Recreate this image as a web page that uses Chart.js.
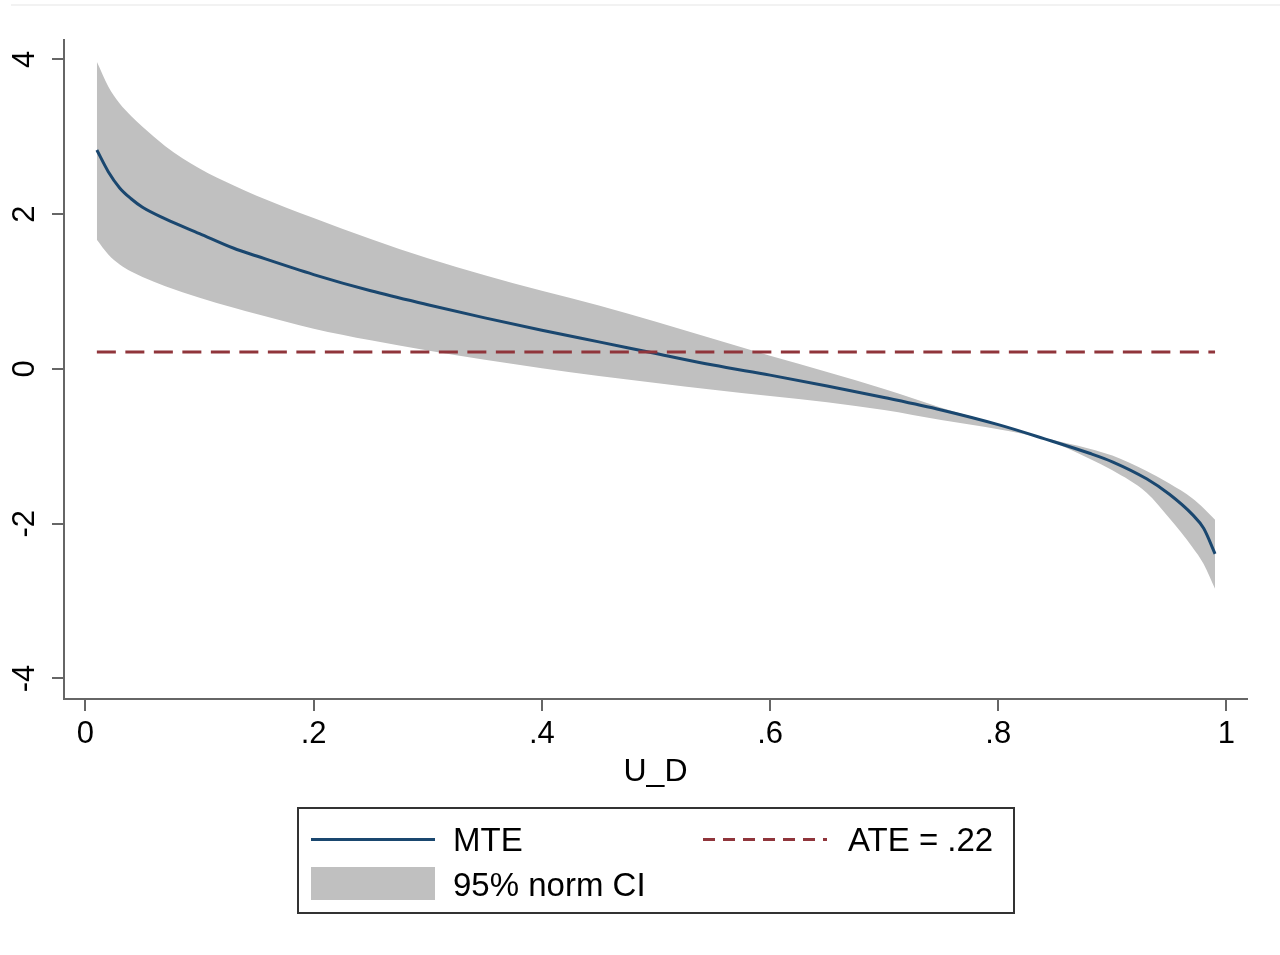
<!DOCTYPE html>
<html>
<head>
<meta charset="utf-8">
<title>MTE</title>
<script src="https://cdn.jsdelivr.net/npm/chart.js@4.4.1/dist/chart.umd.min.js"></script>
<style>
    html, body { margin: 0; padding: 0; background: #fff; }
    #wrap { position: relative; width: 1280px; height: 955px; }
    #rule { position: absolute; left: 11px; right: 0; top: 4px; height: 2px; background: #f2f2f2; }
</style>
</head>
<body>
<div id="wrap">
    <div id="rule"></div>
    <canvas id="mte"></canvas>
</div>
<script>
/* Marginal treatment effect over U_D with a 95% normal CI band */

const U_D = [0.01, 0.02, 0.03, 0.04, 0.05, 0.07, 0.10, 0.13, 0.15, 0.20, 0.25, 0.30, 0.35, 0.40, 0.45,
    0.50, 0.55, 0.60, 0.65, 0.70, 0.75, 0.80, 0.84, 0.88, 0.90, 0.93, 0.95, 0.97, 0.98, 0.99];

const MTE = [2.83, 2.55, 2.34, 2.20, 2.09, 1.94, 1.75, 1.56, 1.46, 1.22, 1.01, 0.83, 0.66, 0.50, 0.35,
    0.20, 0.05, -0.08, -0.22, -0.37, -0.53, -0.72, -0.90, -1.09, -1.20, -1.42, -1.62, -1.88, -2.06, -2.39];

const CI_UPPER = [3.97, 3.65, 3.43, 3.27, 3.13, 2.88, 2.59, 2.37, 2.24, 1.95, 1.68, 1.43, 1.21, 1.01, 0.82,
    0.61, 0.39, 0.17, -0.04, -0.26, -0.50, -0.71, -0.89, -1.03, -1.12, -1.32, -1.48, -1.67, -1.80, -1.95];

const CI_LOWER = [1.67, 1.48, 1.35, 1.26, 1.19, 1.07, 0.92, 0.79, 0.71, 0.52, 0.37, 0.24, 0.12, 0.01, -0.09,
    -0.18, -0.27, -0.35, -0.43, -0.53, -0.66, -0.78, -0.91, -1.16, -1.31, -1.60, -1.93, -2.30, -2.52, -2.84];

const ATE = 0.22;
const ATE_SPAN = [0.01, 0.99];

const X_TICKS = [0, 0.2, 0.4, 0.6, 0.8, 1];
const Y_TICKS = [-4, -2, 0, 2, 4];

const COLORS = {
    mte: '#1a476f',
    ate: '#90353b',
    band: '#c0c0c0',
    axis: '#666666',
    text: '#000000',
    frame: '#333333',
};

const FONT = '"Liberation Sans", Arial, Helvetica, sans-serif';

// Stata style numbers: .2 instead of 0.2
function stataNum(v) {
    const s = String(+v.toFixed(2));
    return s.replace(/^(-?)0\./, '$1.');
}

const xy = (xs, ys) => xs.map((x, i) => ({ x, y: ys[i] }));

// Legend box drawn under the plot, two columns like Stata's
const stataLegend = {
    id: 'stataLegend',
    afterDraw(chart) {
        const ctx = chart.ctx;
        const ds = chart.data.datasets;
        const ate = ds[0], mte = ds[1], band = ds[2];
        ctx.save();

        ctx.strokeStyle = COLORS.frame;
        ctx.lineWidth = 2;
        ctx.strokeRect(298, 808, 716, 105);

        ctx.lineCap = 'butt';
        ctx.beginPath();
        ctx.moveTo(311, 839.5);
        ctx.lineTo(435, 839.5);
        ctx.strokeStyle = mte.borderColor;
        ctx.lineWidth = mte.borderWidth;
        ctx.stroke();

        ctx.beginPath();
        ctx.setLineDash([12, 8]);
        ctx.moveTo(703, 839.5);
        ctx.lineTo(827, 839.5);
        ctx.strokeStyle = ate.borderColor;
        ctx.lineWidth = ate.borderWidth;
        ctx.stroke();
        ctx.setLineDash([]);

        ctx.fillStyle = band.backgroundColor;
        ctx.fillRect(311, 867, 124, 33);

        ctx.fillStyle = COLORS.text;
        ctx.font = `33px ${FONT}`;
        ctx.textBaseline = 'alphabetic';
        ctx.textAlign = 'left';
        ctx.fillText(mte.label, 453, 851);
        ctx.fillText(ate.label, 848, 851);
        ctx.fillText(band.label, 453, 896);
        ctx.restore();
    },
};

new Chart(document.getElementById('mte'), {
    type: 'line',
    data: {
        datasets: [
            {
                label: `ATE = ${stataNum(ATE)}`,
                data: ATE_SPAN.map(x => ({ x, y: ATE })),
                borderColor: COLORS.ate,
                borderWidth: 3,
                borderDash: [19, 9.5],
                pointRadius: 0,
                fill: false,
            },
            {
                label: 'MTE',
                data: xy(U_D, MTE),
                borderColor: COLORS.mte,
                borderWidth: 3,
                cubicInterpolationMode: 'monotone',
                pointRadius: 0,
                fill: false,
            },
            {
                label: '95% norm CI',
                data: xy(U_D, CI_UPPER),
                borderWidth: 0,
                borderColor: 'rgba(0,0,0,0)',
                backgroundColor: COLORS.band,
                cubicInterpolationMode: 'monotone',
                pointRadius: 0,
                fill: '+1',
            },
            {
                label: 'lower',
                data: xy(U_D, CI_LOWER),
                borderWidth: 0,
                borderColor: 'rgba(0,0,0,0)',
                cubicInterpolationMode: 'monotone',
                pointRadius: 0,
                fill: false,
            },
        ],
    },
    options: {
        responsive: true,
        maintainAspectRatio: false,
        animation: false,
        events: [],
        layout: { padding: { left: 0, top: 40, right: 33, bottom: 146 } },
        plugins: {
            legend: { display: false },
            tooltip: { enabled: false },
        },
        scales: {
            x: {
                type: 'linear',
                position: 'bottom',
                min: -0.0188,
                max: 1.018,
                afterBuildTicks: s => { s.ticks = X_TICKS.map(value => ({ value })); },
                afterFit: s => { s.height = 110; },
                grid: { drawOnChartArea: false, drawTicks: true, tickLength: 12, color: COLORS.axis, lineWidth: 2 },
                border: { display: true, color: COLORS.axis, width: 2 },
                ticks: {
                    color: COLORS.text,
                    font: { family: FONT, size: 31 },
                    padding: 5,
                    maxRotation: 0,
                    autoSkip: false,
                    callback: v => stataNum(v),
                },
                title: {
                    display: true,
                    text: 'U_D',
                    color: COLORS.text,
                    font: { family: FONT, size: 32 },
                    padding: { top: 0, bottom: 18 },
                },
            },
            y: {
                type: 'linear',
                position: 'left',
                min: -4.266,
                max: 4.252,
                afterBuildTicks: s => { s.ticks = Y_TICKS.map(value => ({ value })); },
                afterFit: s => { s.width = 64; },
                grid: { drawOnChartArea: false, drawTicks: true, tickLength: 12, color: COLORS.axis, lineWidth: 2 },
                border: { display: true, color: COLORS.axis, width: 2 },
                ticks: {
                    color: COLORS.text,
                    font: { family: FONT, size: 31 },
                    minRotation: 90,
                    maxRotation: 90,
                    crossAlign: 'center',
                    padding: 13,
                    autoSkip: false,
                    callback: v => stataNum(v),
                },
            },
        },
    },
    plugins: [stataLegend],
});
</script>
</body>
</html>
